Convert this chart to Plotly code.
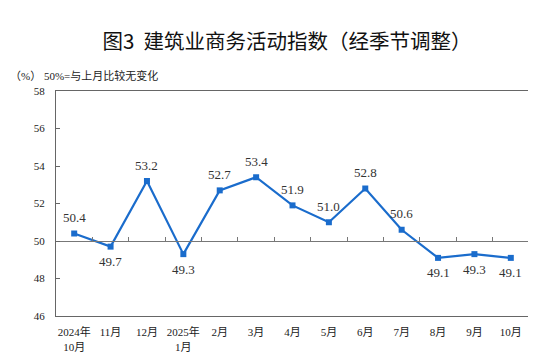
import plotly.graph_objects as go

categories = ["2024年<br>10月", "11月", "12月", "2025年<br>1月", "2月", "3月", "4月",
              "5月", "6月", "7月", "8月", "9月", "10月"]
values = [50.4, 49.7, 53.2, 49.3, 52.7, 53.4, 51.9, 51.0, 52.8, 50.6, 49.1, 49.3, 49.1]
y_ticks = [46, 48, 50, 52, 54, 56, 58]

label_above = [True, False, True, False, True, True, True, True, True, True,
               False, False, False]

serif = "Liberation Serif, Times New Roman, Noto Sans CJK SC, serif"
line_color = "#1a6ccc"

fig = go.Figure()
fig.add_trace(go.Scatter(
    x=categories, y=values, mode="lines+markers",
    line=dict(color=line_color, width=2.2),
    marker=dict(symbol="square", size=6, color=line_color),
    cliponaxis=False, showlegend=False, hoverinfo="skip",
))

for c, v, up in zip(categories, values, label_above):
    fig.add_annotation(x=c, y=v, xref="x", yref="y", text=f"{v:.1f}", showarrow=False,
                       yshift=16 if up else -15, xanchor="center", yanchor="middle",
                       font=dict(family=serif, size=13, color="#333333"))

fig.update_layout(
    width=536, height=362,
    margin=dict(l=48, r=15, t=83, b=54, autoexpand=False),
    paper_bgcolor="white", plot_bgcolor="white",
    title=dict(text="图3\u00a0\u00a0建筑业商务活动指数（经季节调整）", x=279 / 536, xanchor="center",
               y=1 - 33.5 / 362, yanchor="middle", automargin=False,
               font=dict(family="Noto Sans CJK SC", size=20.5, color="#111111")),
    xaxis=dict(type="category", categoryorder="array", categoryarray=categories,
               range=[-0.5, len(categories) - 0.5], automargin=False,
               showline=True, linecolor="#666666", linewidth=1.2, mirror=True,
               ticks="", showgrid=False, zeroline=False,
               tickfont=dict(family=serif, size=11, color="#222222"),
               ticklabelstandoff=6),
    xaxis2=dict(type="category", categoryorder="array", categoryarray=categories,
                range=[-0.5, len(categories) - 0.5], overlaying="x",
                anchor="free", position=(50 - 46) / (58 - 46), automargin=False,
                showline=True, linecolor="#777777", linewidth=1.2,
                ticks="inside", tickson="boundaries", ticklen=4, tickcolor="#777777",
                showticklabels=False, showgrid=False, zeroline=False),
    yaxis=dict(range=[46, 58], tickvals=y_ticks, ticktext=[str(t) for t in y_ticks],
               automargin=False,
               showline=True, linecolor="#666666", linewidth=1.2, mirror=True,
               ticks="inside", ticklen=4, tickcolor="#666666",
               showgrid=False, zeroline=False,
               tickfont=dict(family=serif, size=11, color="#222222"),
               ticklabelstandoff=8),
)

fig.add_trace(go.Scatter(x=categories, y=[None] * len(categories), xaxis="x2",
                         showlegend=False, hoverinfo="skip"))

fig.add_annotation(text="（%） 50%=与上月比较无变化", xref="paper", yref="paper",
                   x=-48 / 473, y=(362 - 54 - 67) / 225, xanchor="left", yanchor="middle",
                   showarrow=False, font=dict(family=serif, size=11, color="#222222"))

fig.write_html("out.html")
